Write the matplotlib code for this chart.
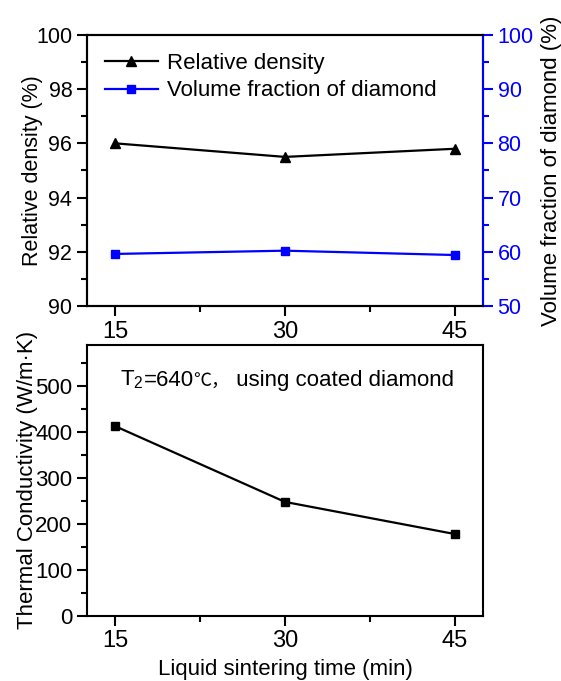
import numpy as np
import matplotlib.pyplot as plt
from matplotlib.ticker import MultipleLocator

plt.rcParams['font.family'] = ['Liberation Sans', 'DejaVu Sans']
plt.rcParams['mathtext.fontset'] = 'custom'
plt.rcParams['mathtext.rm'] = 'Liberation Sans'
plt.rcParams['mathtext.it'] = 'Liberation Sans'

time_min = [15, 30, 45]
rel_density = [96.0, 95.5, 95.8]
vol_fraction = [59.6, 60.2, 59.4]
thermal_cond = [413, 248, 178]

fs = 16
lw_axis = 1.5
blue = '#0000ff'


def style_ticks(ax, ysize, xsize, color='black'):
    ax.tick_params(which='both', direction='out', width=lw_axis, pad=3,
                   top=False, right=False, colors=color)
    ax.tick_params(which='major', length=7.5)
    ax.tick_params(which='minor', length=4)
    ax.tick_params(axis='y', labelsize=ysize)
    ax.tick_params(axis='x', labelsize=xsize)


fig = plt.figure(figsize=(5.61, 6.81), dpi=100)

# top panel: relative density + diamond volume fraction
ax1 = fig.add_axes([0.155, 0.5507, 0.706, 0.398])
ax1.plot(time_min, rel_density, color='black', lw=1.6, marker='^', ms=7,
         label='Relative density')
ax2 = ax1.twinx()
ln2, = ax2.plot(time_min, vol_fraction, color=blue, lw=1.6, marker='s', ms=6,
                label='Volume fraction of diamond')

ax1.set_xlim(12.5, 47.5)
ax1.set_ylim(90, 100)
ax2.set_ylim(50, 100)
ax1.xaxis.set_major_locator(MultipleLocator(15))
ax1.xaxis.set_minor_locator(MultipleLocator(7.5))
ax1.yaxis.set_major_locator(MultipleLocator(2))
ax1.yaxis.set_minor_locator(MultipleLocator(1))
ax2.yaxis.set_major_locator(MultipleLocator(10))
ax2.yaxis.set_minor_locator(MultipleLocator(5))

ax1.set_ylabel('Relative density (%)', fontsize=15.5, labelpad=-5)
ax2.set_ylabel('Volume fraction of diamond (%)', fontsize=fs, labelpad=5)

h1, l1 = ax1.get_legend_handles_labels()
ax1.legend(h1 + [ln2], l1 + [ln2.get_label()], loc='upper left', frameon=False,
           fontsize=fs, handlelength=2.4, handletextpad=0.4, labelspacing=0.3,
           borderaxespad=0.4, bbox_to_anchor=(0.0, 1.0))

for sp in list(ax1.spines.values()) + list(ax2.spines.values()):
    sp.set_linewidth(lw_axis)
ax2.spines['right'].set_color(blue)

style_ticks(ax1, 15.5, 17)
ax2.tick_params(which='both', direction='out', width=lw_axis, pad=3,
                labelsize=15.5, colors=blue)
ax2.tick_params(which='major', length=7.5)
ax2.tick_params(which='minor', length=4)
ax2.yaxis.label.set_color('black')

# bottom panel: thermal conductivity
ax3 = fig.add_axes([0.155, 0.0959, 0.706, 0.3975])
ax3.plot(time_min, thermal_cond, color='black', lw=1.6, marker='s', ms=6)
ax3.set_xlim(12.5, 47.5)
ax3.set_ylim(0, 590)
ax3.xaxis.set_major_locator(MultipleLocator(15))
ax3.xaxis.set_minor_locator(MultipleLocator(7.5))
ax3.yaxis.set_major_locator(MultipleLocator(100))
ax3.yaxis.set_minor_locator(MultipleLocator(50))
for sp in ax3.spines.values():
    sp.set_linewidth(lw_axis)
style_ticks(ax3, 16, 17)
ax3.set_ylabel('Thermal Conductivity (W/m\u00b7K)', fontsize=fs, labelpad=-2)
ax3.set_xlabel('Liquid sintering time (min)', fontsize=fs, labelpad=5)

# annotation: T2=640 degC, using coated diamond
t = ax3.text(0.083, 0.852, 'T$_2$', transform=ax3.transAxes, fontsize=fs,
             va='baseline', ha='left')
t2 = ax3.annotate('=640', xy=(1, 0), xycoords=t, fontsize=fs,
                  va='bottom', ha='left')
t3 = ax3.annotate('\u2103\uff0c', xy=(1, 0), xycoords=t2, fontsize=13,
                  va='bottom', ha='left', family=['Noto Sans CJK SC'])
ax3.annotate(' using coated diamond', xy=(1, 0), xycoords=t3, fontsize=fs,
             va='bottom', ha='left')

fig.savefig('out.png', dpi=100)
